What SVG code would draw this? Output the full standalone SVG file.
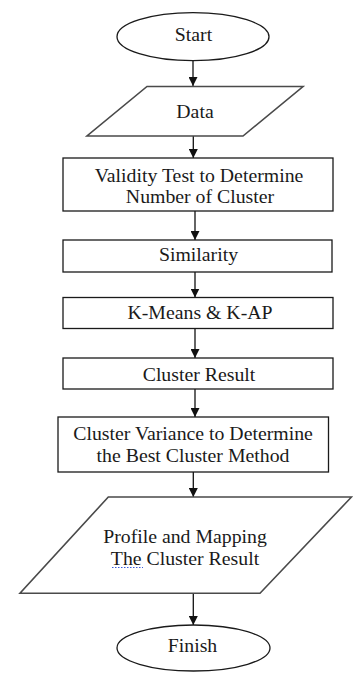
<svg xmlns="http://www.w3.org/2000/svg" width="353" height="673" viewBox="0 0 353 673">
<style>
  .box{fill:#fff;stroke:#1a1a1a;stroke-width:1.3}
  .para{fill:#fff;stroke:#4a4a4a;stroke-width:1.6;stroke-linejoin:miter}
  .term{fill:#fff;stroke:#1a1a1a;stroke-width:1.3}
  .lbl{font-family:"Liberation Serif","Times New Roman",serif;font-size:18.5px;fill:#1a1a1a;text-anchor:middle}
  .edge{stroke:#111;stroke-width:1.3;fill:none}
</style>
<defs>
  <marker id="arr" markerUnits="userSpaceOnUse" markerWidth="9" markerHeight="10" refX="4.5" refY="9" orient="auto-start-reverse" viewBox="0 0 9 10">
    <path d="M0,0 L9,0 L4.5,9 Z" fill="#111" transform="rotate(-90 4.5 4.5)"/>
  </marker>
  <marker id="ah" markerUnits="userSpaceOnUse" markerWidth="9" markerHeight="9" refX="9" refY="4.5" orient="auto" viewBox="0 0 9 9">
    <path d="M0,0 L9,4.5 L0,9 Z" fill="#111"/>
  </marker>
</defs>
<rect width="353" height="673" fill="#fff"/>
<g id="connectors">
  <line class="edge" x1="193" y1="61" x2="193" y2="86" marker-end="url(#ah)"/>
  <line class="edge" x1="193.3" y1="136" x2="193.3" y2="158" marker-end="url(#ah)"/>
  <line class="edge" x1="195" y1="211" x2="195" y2="240" marker-end="url(#ah)"/>
  <line class="edge" x1="195" y1="272" x2="195" y2="297.5" marker-end="url(#ah)"/>
  <line class="edge" x1="195" y1="328.5" x2="195" y2="358" marker-end="url(#ah)"/>
  <line class="edge" x1="195" y1="389" x2="195" y2="417" marker-end="url(#ah)"/>
  <line class="edge" x1="193.3" y1="472" x2="193.3" y2="497" marker-end="url(#ah)"/>
  <line class="edge" x1="193.3" y1="593.5" x2="193.3" y2="625" marker-end="url(#ah)"/>
</g>
<g id="start">
  <ellipse class="term" cx="193" cy="36.7" rx="76" ry="24"/>
  <text class="lbl" transform="translate(193.5 40.5) scale(1.07 1)">Start</text>
</g>
<g id="data">
  <polygon class="para" points="147,86.5 303,86.5 243,136 87,136"/>
  <text class="lbl" transform="translate(195 117.5) scale(1.07 1)">Data</text>
</g>
<g id="validity">
  <rect class="box" x="63" y="158" width="270" height="53"/>
  <text class="lbl" transform="translate(199 181.7) scale(1.07 1)">Validity Test to Determine</text>
  <text class="lbl" transform="translate(200 203) scale(1.07 1)">Number of Cluster</text>
</g>
<g id="similarity">
  <rect class="box" x="63" y="240" width="269" height="32"/>
  <text class="lbl" transform="translate(198.5 260.7) scale(1.07 1)">Similarity</text>
</g>
<g id="kmeans">
  <rect class="box" x="63" y="297.5" width="270" height="31"/>
  <text class="lbl" transform="translate(200 318.5) scale(1.07 1)">K-Means &amp; K-AP</text>
</g>
<g id="cluster-result">
  <rect class="box" x="63" y="358" width="270" height="31"/>
  <text class="lbl" transform="translate(199 380.7) scale(1.07 1)">Cluster Result</text>
</g>
<g id="cluster-variance">
  <rect class="box" x="58" y="417" width="270.5" height="55"/>
  <text class="lbl" transform="translate(193 440) scale(1.07 1)">Cluster Variance to Determine</text>
  <text class="lbl" transform="translate(193 461.7) scale(1.07 1)">the Best Cluster Method</text>
</g>
<g id="profile">
  <polygon class="para" points="108.3,497 351.5,497 260,593.3 20,593.3"/>
  <text class="lbl" transform="translate(185 542.7) scale(1.07 1)">Profile and Mapping</text>
  <text class="lbl" transform="translate(185 565) scale(1.07 1)">The Cluster Result</text>
  <line x1="112" y1="567.5" x2="143" y2="567.5" stroke="#3a5bd9" stroke-width="1" stroke-dasharray="1.5 1.5"/>
</g>
<g id="finish">
  <ellipse class="term" cx="193.5" cy="648" rx="76.5" ry="23"/>
  <text class="lbl" transform="translate(192.5 652) scale(1.07 1)">Finish</text>
</g>
</svg>
